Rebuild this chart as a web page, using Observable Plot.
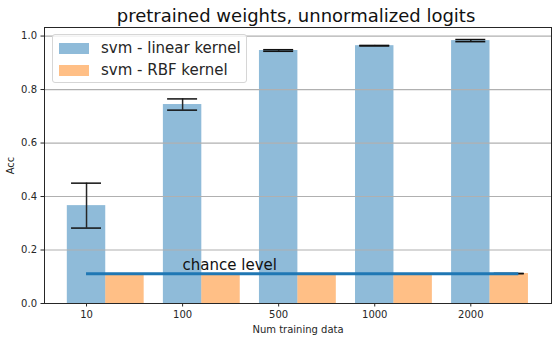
<!DOCTYPE html>
<html>
<head>
<meta charset="utf-8">
<script src="https://cdn.jsdelivr.net/npm/d3@7"></script>
<script src="https://cdn.jsdelivr.net/npm/@observablehq/plot@0.6"></script>
<style>
  html, body { margin: 0; padding: 0; background: #fff; }
  #wrap { position: relative; width: 558px; height: 341px; font-family: "DejaVu Sans", sans-serif; }
  #legend { position: absolute; left: 52px; top: 34px; width: 193px; height: 47px;
    border: 1px solid #d6d6d6; border-radius: 3px; background: rgba(255,255,255,0.8);
    font-size: 15px; color: #262626; }
  .item { position: absolute; left: 6px; height: 16px; display: flex; align-items: center; }
  .sw { width: 30px; height: 11px; margin-right: 12px; }
</style>
</head>
<body>
<div id="wrap"></div>
<script>
const categories = ["10", "100", "500", "1000", "2000"];
const linearAcc = [0.366, 0.744, 0.946, 0.964, 0.983];
const linearErr = [0.084, 0.021, 0.003, 0.001, 0.004];
const rbfAcc = [0.106, 0.106, 0.106, 0.106, 0.112];
const rbfErr = [null, null, null, null, 0.0];
const chanceLevel = 0.111;
const seriesNames = ["svm - linear kernel", "svm - RBF kernel"];
const seriesColors = ["#1f77b4", "#ff7f0e"];

const barW = 0.4;
const capHalf = 0.156;
const linear = categories.map((c, i) => ({i, v: linearAcc[i], e: linearErr[i], x: i}));
const rbf = categories.map((c, i) => ({i, v: rbfAcc[i], e: rbfErr[i], x: i + barW}));
const withErr = data => data.filter(d => d.e != null);

const plot = Plot.plot({
  width: 558,
  height: 341,
  marginLeft: 44,
  marginRight: 7,
  marginTop: 27,
  marginBottom: 38,
  style: {fontFamily: "DejaVu Sans, sans-serif", fontSize: "10px", color: "#262626", background: "#fff"},
  x: {type: "linear", domain: [-0.4375, 4.84]},
  y: {domain: [0, 1.032]},
  marks: [
    Plot.rectY(linear, {x1: d => d.x - barW / 2, x2: d => d.x + barW / 2, y1: 0, y2: "v", fill: seriesColors[0], fillOpacity: 0.5}),
    Plot.rectY(rbf, {x1: d => d.x - barW / 2, x2: d => d.x + barW / 2, y1: 0, y2: "v", fill: seriesColors[1], fillOpacity: 0.5}),
    Plot.gridY({ticks: [0, 0.2, 0.4, 0.6, 0.8, 1.0], stroke: "#b0b0b0", strokeOpacity: 1, strokeWidth: 1.2}),
    ...[linear, rbf].flatMap(data => [
      Plot.ruleX(withErr(data), {x: "x", y1: d => d.v - d.e, y2: d => d.v + d.e, stroke: "#262626", strokeWidth: 1.5}),
      Plot.ruleY(withErr(data), {y: d => d.v - d.e, x1: d => d.x - capHalf, x2: d => d.x + capHalf, stroke: "#111", strokeWidth: 1.5}),
      Plot.ruleY(withErr(data), {y: d => d.v + d.e, x1: d => d.x - capHalf, x2: d => d.x + capHalf, stroke: "#111", strokeWidth: 1.5})
    ]),
    Plot.ruleY([chanceLevel], {x1: 0, x2: 4.5, stroke: seriesColors[0], strokeWidth: 3}),
    Plot.text(["chance level"], {x: 1, y: chanceLevel, dy: -9, textAnchor: "start", fontSize: 15, fill: "#111"}),
    Plot.axisX({ticks: [0, 1, 2, 3, 4], tickFormat: i => categories[i], tickSize: 3.5, tickPadding: 4,
      label: "Num training data", labelAnchor: "center", labelArrow: "none", labelOffset: 29, fontSize: 10}),
    Plot.axisY({ticks: [0, 0.2, 0.4, 0.6, 0.8, 1.0], tickFormat: d3.format(".1f"), tickSize: 3.5, tickPadding: 4,
      label: "Acc", labelAnchor: "center", labelArrow: "none", labelOffset: 38, fontSize: 10}),
    Plot.frame({stroke: "#262626", strokeWidth: 1}),
    Plot.text(["pretrained weights, unnormalized logits"], {frameAnchor: "top", lineAnchor: "bottom", dy: -6, dx: -2, fontSize: 18, fill: "#111"})
  ]
});
const wrap = document.getElementById("wrap");
wrap.appendChild(plot);

const legend = document.createElement("div");
legend.id = "legend";
seriesNames.forEach((name, k) => {
  const item = document.createElement("div");
  item.className = "item";
  item.style.top = (5 + k * 22) + "px";
  const sw = document.createElement("div");
  sw.className = "sw";
  sw.style.background = seriesColors[k];
  sw.style.opacity = 0.5;
  const label = document.createElement("span");
  label.textContent = name;
  item.appendChild(sw);
  item.appendChild(label);
  legend.appendChild(item);
});
wrap.appendChild(legend);
</script>
</body>
</html>
